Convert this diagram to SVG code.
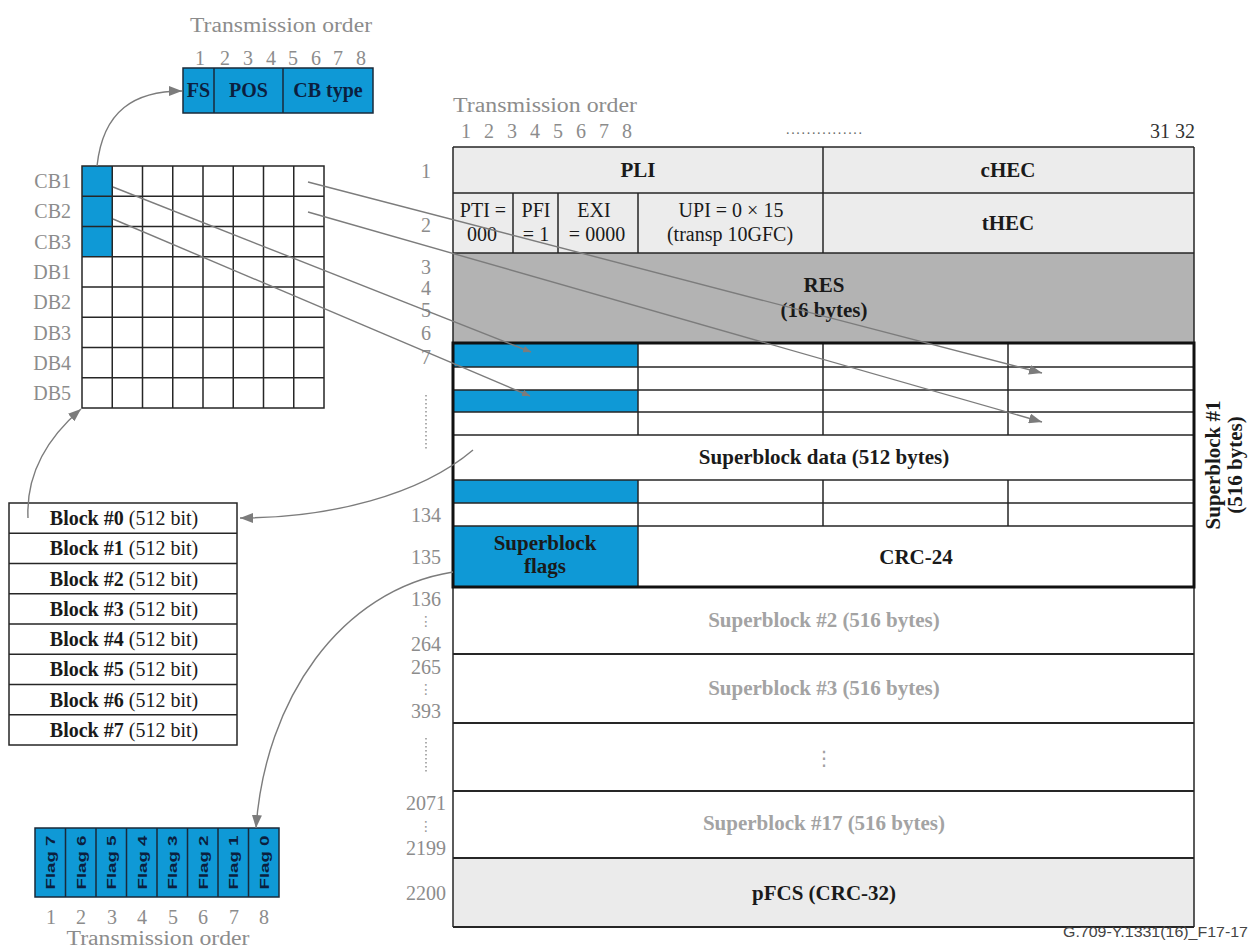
<svg xmlns="http://www.w3.org/2000/svg" width="1255" height="949" viewBox="0 0 1255 949">
<style>
svg{font-family:"Liberation Serif","Times New Roman",serif}
.lbl{fill:#8c8c8c;font-size:20px}
.t{fill:#1a1a1a;font-size:20px}
.tb{fill:#1a1a1a;font-size:21px;font-weight:bold}
.nv{fill:#0b1f3f;font-size:20px;font-weight:bold}
.gb{fill:#a3a3a3;font-size:21px;font-weight:bold}
.grid{stroke:#262626;stroke-width:1.5;fill:none}
.blue{fill:#0f99d6}
.conn{stroke:#7c7c7c;stroke-width:1.4;fill:none}
.dot{stroke:#9a9a9a;stroke-width:1.6;stroke-dasharray:1.5 2.5;fill:none}
.flag{font-family:"Liberation Sans",Arial,sans-serif;font-size:13px;font-weight:bold;fill:#0b1f3f}
.sans{font-family:"Liberation Sans",Arial,sans-serif}
.vd{font-family:"DejaVu Sans",sans-serif}
</style>
<defs>
<marker id="ah" markerWidth="13" markerHeight="10" refX="13" refY="5" orient="auto" markerUnits="userSpaceOnUse"><path d="M0,0 L13,5 L0,10 z" fill="#7c7c7c"/></marker>
<marker id="ahs" markerWidth="8" markerHeight="7" refX="8" refY="3.5" orient="auto" markerUnits="userSpaceOnUse"><path d="M0,0 L8,3.5 L0,7 z" fill="#7c7c7c"/></marker>
</defs>
<rect width="1255" height="949" fill="#ffffff"/>

<!-- Top-left CB byte format -->
<g id="cb-format">
<text class="lbl" x="281" y="32" text-anchor="middle" font-size="22" textLength="182" lengthAdjust="spacingAndGlyphs">Transmission order</text>
<g class="lbl" text-anchor="middle">
<text x="200" y="65">1</text><text x="225" y="65">2</text><text x="248" y="65">3</text><text x="271" y="65">4</text>
<text x="293" y="65">5</text><text x="316" y="65">6</text><text x="338" y="65">7</text><text x="361" y="65">8</text>
</g>
<rect x="183" y="68" width="190" height="45" class="blue" stroke="#1a2a3a" stroke-width="1.5"/>
<line x1="214" y1="68" x2="214" y2="113" stroke="#1a2a3a" stroke-width="1.5"/>
<line x1="283" y1="68" x2="283" y2="113" stroke="#1a2a3a" stroke-width="1.5"/>
<text class="nv" x="198.5" y="97" text-anchor="middle">FS</text>
<text class="nv" x="248.5" y="97" text-anchor="middle">POS</text>
<text class="nv" x="328" y="97" text-anchor="middle">CB type</text>
</g>

<!-- CB/DB grid -->
<g id="cb-grid">
<rect x="82" y="166" width="30.25" height="91" class="blue"/>
<g class="grid">
<rect x="82" y="166" width="242" height="242"/>
<path d="M112.25,166V408M142.5,166V408M172.75,166V408M203,166V408M233.25,166V408M263.5,166V408M293.75,166V408"/>
<path d="M82,196.25H324M82,226.5H324M82,256.75H324M82,287H324M82,317.25H324M82,347.5H324M82,377.75H324"/>
</g>
<g class="lbl" text-anchor="end">
<text x="71" y="188">CB1</text><text x="71" y="218">CB2</text><text x="71" y="249">CB3</text>
<text x="71" y="279">DB1</text><text x="71" y="309">DB2</text><text x="71" y="340">DB3</text>
<text x="71" y="370">DB4</text><text x="71" y="400">DB5</text>
</g>
</g>

<!-- Block list -->
<g id="block-list">
<g class="grid">
<rect x="9" y="503" width="228" height="242"/>
<path d="M9,533.25H237M9,563.5H237M9,593.75H237M9,624H237M9,654.25H237M9,684.5H237M9,714.75H237"/>
</g>
<g class="t" text-anchor="middle" font-size="21">
<text x="124" y="525"><tspan font-weight="bold">Block #0</tspan> (512 bit)</text>
<text x="124" y="555"><tspan font-weight="bold">Block #1</tspan> (512 bit)</text>
<text x="124" y="586"><tspan font-weight="bold">Block #2</tspan> (512 bit)</text>
<text x="124" y="616"><tspan font-weight="bold">Block #3</tspan> (512 bit)</text>
<text x="124" y="646"><tspan font-weight="bold">Block #4</tspan> (512 bit)</text>
<text x="124" y="676"><tspan font-weight="bold">Block #5</tspan> (512 bit)</text>
<text x="124" y="707"><tspan font-weight="bold">Block #6</tspan> (512 bit)</text>
<text x="124" y="737"><tspan font-weight="bold">Block #7</tspan> (512 bit)</text>
</g>
</g>

<!-- Flags -->
<g id="flags">
<rect x="35" y="828" width="244" height="69" class="blue" stroke="#1a2a3a" stroke-width="1.5"/>
<path d="M65.5,828V897M96,828V897M126.5,828V897M157,828V897M187.5,828V897M218,828V897M248.5,828V897" stroke="#1a2a3a" stroke-width="1.5"/>
<g class="flag" text-anchor="middle">
<text transform="translate(55,862.5) rotate(-90)" textLength="54" lengthAdjust="spacingAndGlyphs">Flag 7</text>
<text transform="translate(85.5,862.5) rotate(-90)" textLength="54" lengthAdjust="spacingAndGlyphs">Flag 6</text>
<text transform="translate(116,862.5) rotate(-90)" textLength="54" lengthAdjust="spacingAndGlyphs">Flag 5</text>
<text transform="translate(146.5,862.5) rotate(-90)" textLength="54" lengthAdjust="spacingAndGlyphs">Flag 4</text>
<text transform="translate(177,862.5) rotate(-90)" textLength="54" lengthAdjust="spacingAndGlyphs">Flag 3</text>
<text transform="translate(207.5,862.5) rotate(-90)" textLength="54" lengthAdjust="spacingAndGlyphs">Flag 2</text>
<text transform="translate(238,862.5) rotate(-90)" textLength="54" lengthAdjust="spacingAndGlyphs">Flag 1</text>
<text transform="translate(268.5,862.5) rotate(-90)" textLength="54" lengthAdjust="spacingAndGlyphs">Flag 0</text>
</g>
<g class="lbl" text-anchor="middle">
<text x="51" y="924">1</text><text x="81" y="924">2</text><text x="112" y="924">3</text><text x="142" y="924">4</text>
<text x="173" y="924">5</text><text x="203" y="924">6</text><text x="234" y="924">7</text><text x="264" y="924">8</text>
</g>
<text class="lbl" x="158" y="945" text-anchor="middle" font-size="22" textLength="183" lengthAdjust="spacingAndGlyphs">Transmission order</text>
</g>

<!-- Main frame table -->
<g id="frame">
<text class="lbl" x="545" y="112" text-anchor="middle" font-size="22" textLength="184" lengthAdjust="spacingAndGlyphs">Transmission order</text>
<g class="lbl" text-anchor="middle">
<text x="466" y="138">1</text><text x="489" y="138">2</text><text x="512" y="138">3</text><text x="535" y="138">4</text>
<text x="558" y="138">5</text><text x="581" y="138">6</text><text x="604" y="138">7</text><text x="627" y="138">8</text>
</g>
<text x="824" y="134" text-anchor="middle" font-size="14" fill="#666" textLength="76" lengthAdjust="spacing">...............</text>
<text x="1195" y="138" text-anchor="end" font-size="20" fill="#333">31 32</text>

<rect x="453" y="147" width="741" height="106" fill="#ececec"/>
<rect x="453" y="253" width="741" height="90" fill="#b3b3b3"/>
<rect x="453" y="343" width="185" height="24" class="blue"/>
<rect x="453" y="390" width="185" height="22" class="blue"/>
<rect x="453" y="480" width="185" height="23" class="blue"/>
<rect x="453" y="526" width="185" height="61" class="blue"/>
<rect x="453" y="858" width="741" height="69" fill="#ebebeb"/>

<g class="grid">
<path d="M453,147H1194M453,193H1194M453,253H1194M453,367H1194M453,390H1194M453,412H1194M453,435H1194M453,480H1194M453,503H1194M453,526H1194"/>
<path d="M453,654H1194M453,723H1194M453,791H1194M453,858H1194M453,927H1194" stroke-width="2"/>
<path d="M453,147V927M1194,147V927M823,147V253M513,193V253M558,193V253M638,193V253"/>
<path d="M638,343V435M823,343V435M1008,343V435M638,480V526M823,480V526M1008,480V526M638,526V587"/>
<rect x="453" y="343" width="741" height="244" stroke="#111" stroke-width="3"/>
</g>

<text class="tb" x="638" y="177" text-anchor="middle">PLI</text>
<text class="tb" x="1008" y="177" text-anchor="middle">cHEC</text>
<g class="t" font-size="18" text-anchor="middle">
<text x="483" y="217">PTI =</text><text x="482" y="241">000</text>
<text x="536" y="217">PFI</text><text x="536" y="241">= 1</text>
<text x="594" y="217">EXI</text><text x="597" y="241">= 0000</text>
<text x="731" y="217">UPI = 0 × 15</text><text x="730" y="241">(transp 10GFC)</text>
</g>
<text class="tb" x="1008" y="230" text-anchor="middle">tHEC</text>
<text class="tb" x="824" y="292" text-anchor="middle">RES</text>
<text class="tb" x="824" y="317" text-anchor="middle">(16 bytes)</text>
<text class="tb" x="824" y="464" text-anchor="middle">Superblock data (512 bytes)</text>
<text class="tb" x="545" y="550" text-anchor="middle" fill="#0b1f3f">Superblock</text>
<text class="tb" x="545" y="573" text-anchor="middle" fill="#0b1f3f">flags</text>
<text class="tb" x="916" y="564" text-anchor="middle">CRC-24</text>
<text class="tb" transform="translate(1220,465) rotate(-90)" text-anchor="middle">Superblock #1</text>
<text class="tb" transform="translate(1242,465) rotate(-90)" text-anchor="middle">(516 bytes)</text>
<text class="gb" x="824" y="627" text-anchor="middle">Superblock #2 (516 bytes)</text>
<text class="gb" x="824" y="695" text-anchor="middle">Superblock #3 (516 bytes)</text>
<text class="vd" x="824" y="765" text-anchor="middle" font-size="20" fill="#a0a0a0">⋮</text>
<text class="gb" x="824" y="830" text-anchor="middle">Superblock #17 (516 bytes)</text>
<text class="tb" x="824" y="900" text-anchor="middle">pFCS (CRC-32)</text>

<g class="lbl" text-anchor="middle">
<text x="426" y="178">1</text><text x="426" y="232">2</text><text x="426" y="274">3</text><text x="426" y="295">4</text>
<text x="426" y="317">5</text><text x="426" y="340">6</text><text x="426" y="364">7</text>
<text x="426" y="522">134</text><text x="426" y="564">135</text><text x="426" y="606">136</text>
<text x="426" y="651">264</text><text x="426" y="674">265</text><text x="426" y="718">393</text>
<text x="426" y="810">2071</text><text x="426" y="855">2199</text><text x="426" y="900">2200</text>
</g>
<g class="vd" font-size="14" fill="#9a9a9a" text-anchor="middle">
<text x="426" y="626">⋮</text><text x="426" y="694">⋮</text><text x="426" y="831">⋮</text>
</g>
<path class="dot" d="M426,395V450M426,738V773"/>
</g>

<text class="sans" x="1063" y="937" font-size="15" fill="#444" textLength="185" lengthAdjust="spacingAndGlyphs">G.709-Y.1331(16)_F17-17</text>

<!-- Connectors -->
<g id="connectors" class="conn">
<path d="M97,166 C103,110 135,91 182,91" marker-end="url(#ah)"/>
<path d="M28,518 C26,475 45,440 81,409" marker-end="url(#ah)"/>
<path d="M473,450 C420,495 330,518 240,518" marker-end="url(#ah)"/>
<path d="M453,572 C340,590 265,700 256,828" marker-end="url(#ah)"/>
<path d="M308,182 L1042,373" marker-end="url(#ah)"/>
<path d="M308,212 L1042,422" marker-end="url(#ah)"/>
<path d="M113,187 L531,352" marker-end="url(#ahs)"/>
<path d="M113,219 L530,396" marker-end="url(#ahs)"/>
</g>
</svg>
